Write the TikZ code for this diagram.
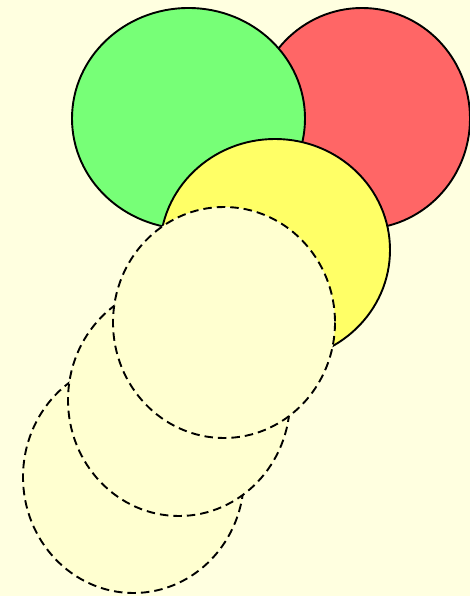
\documentclass[tikz,border=0pt]{standalone}
\usepackage{tikz}
\usetikzlibrary{calc}

\definecolor{fondo}{RGB}{255,255,224}
\definecolor{fondocirc}{RGB}{255,255,208}
\definecolor{verde}{RGB}{119,255,119}
\definecolor{rojo}{RGB}{255,102,102}
\definecolor{amarillo}{RGB}{255,255,102}

\tikzset{
    lleno/.style={draw=black, line width=1.9pt},
    punteado/.style={draw=black, line width=1.9pt, dash pattern=on 8.5pt off 5pt, fill=fondocirc}
}

\begin{document}
\begin{tikzpicture}[x=1pt,y=-1pt]
    % Fondo y limites del grafico
    \fill[fondo] (0,0) rectangle (470,596);
    \useasboundingbox (0,0) rectangle (470,596);

    % Centros de los circulos
    \coordinate (R) at (362,118.5);
    \coordinate (V) at (188.5,118.5);
    \coordinate (A) at (275,250);
    \coordinate (P1) at (224,322.5);
    \coordinate (P2) at (179,400);
    \coordinate (P3) at (133.5,477);

    % Circulos rellenos
    \draw[lleno, fill=rojo] (R) ellipse [x radius=108, y radius=110.5];
    \draw[lleno, fill=verde] (V) ellipse [x radius=116.5, y radius=110.5];
    \draw[lleno, fill=amarillo] (A) ellipse [x radius=115, y radius=111];

    % Circulos punteados (de abajo hacia arriba)
    \draw[punteado] (P3) ellipse [x radius=110.5, y radius=116];
    \draw[punteado] (P2) ellipse [x radius=111, y radius=116];
    \draw[punteado] (P1) ellipse [x radius=111, y radius=115.5];

\end{tikzpicture}
\end{document}
